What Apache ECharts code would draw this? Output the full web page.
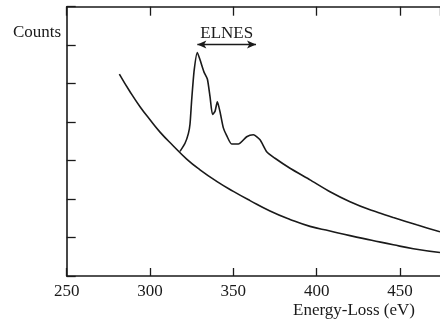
<!DOCTYPE html>
<html>
<head>
<meta charset="utf-8">
<script src="https://cdn.jsdelivr.net/npm/echarts@6/dist/echarts.min.js"></script>
<style>
html,body{margin:0;padding:0;background:#fff;}
#chart{width:440px;height:321px;}
</style>
</head>
<body>
<div id="chart"></div>
<script>
// Energy-loss axis ticks (the figure is cropped at ~474 eV on the right)
var xTicks = [250, 300, 350, 400, 450];
var xVisibleMax = 474;
// Background (pre-edge extrapolated) curve
var bgEnergy = [281.6, 288, 294, 300, 306, 314, 322, 330, 340, 350, 360, 372, 384, 396, 408, 420, 433, 446, 458, 474];
var bgCounts = [5.25, 4.79, 4.40, 4.06, 3.74, 3.38, 3.04, 2.76, 2.46, 2.20, 1.96, 1.69, 1.47, 1.29, 1.17, 1.05, 0.93, 0.81, 0.71, 0.61];
// Measured spectrum with edge + ELNES
var edgeEnergy = [318, 321, 323, 324, 325, 326.5, 328.4, 330, 332.4, 334.4, 336, 337.5, 339, 340.4, 342, 344, 346, 349, 353, 358, 362, 366, 370, 375, 384, 396, 408, 420, 432, 446, 460, 474];
var edgeCounts = [3.24, 3.45, 3.70, 3.95, 4.58, 5.35, 5.81, 5.62, 5.30, 5.12, 4.66, 4.20, 4.28, 4.53, 4.27, 3.85, 3.65, 3.43, 3.43, 3.62, 3.67, 3.54, 3.23, 3.06, 2.80, 2.50, 2.19, 1.93, 1.72, 1.52, 1.33, 1.15];
// ELNES annotation (energy range and level in data units)
var elnesRange = [328.4, 363.6];
var elnesLevel = 6.02;

function pairs(xs, ys){ return xs.map(function(x,i){ return [x, ys[i]]; }); }

var font = 'Liberation Serif, Times New Roman, serif';
var ink = '#1a1a1a';
var chart = echarts.init(document.getElementById('chart'), null, {renderer:'canvas'});
function xAxisCfg(pos, showLabel, tickLen){
  return {
    type: 'value', min: xTicks[0], max: xVisibleMax, interval: 50,
    position: pos,
    axisLine: {show: true, onZero: false, lineStyle: {color: ink, width: 1.6}},
    axisTick: {show: true, inside: true, length: tickLen, lineStyle: {color: ink, width: 1.3}},
    axisLabel: {show: showLabel, color: ink, fontFamily: font, fontSize: 17, margin: 7,
      showMaxLabel: false,
      formatter: function(v){ return xTicks.indexOf(v) >= 0 ? String(v) : ''; }},
    splitLine: {show: false}
  };
}
chart.setOption({
  animation: false,
  backgroundColor: '#ffffff',
  grid: {left: 66.7, top: 6.7, right: 0, bottom: 45, containLabel: false},
  xAxis: [xAxisCfg('bottom', true, 8), xAxisCfg('top', false, 9)],
  yAxis: {
    type: 'value', min: 0, max: 7, interval: 1,
    axisLine: {show: true, onZero: false, lineStyle: {color: ink, width: 1.6}},
    axisTick: {show: true, inside: true, length: 9, lineStyle: {color: ink, width: 1.3}},
    axisLabel: {show: false},
    splitLine: {show: false}
  },
  graphic: [
    {type: 'text', left: 13, top: 24, style: {text: 'Counts', font: '17px ' + font, fill: ink}},
    {type: 'text', left: 293, top: 302, style: {text: 'Energy-Loss (eV)', font: '17px ' + font, fill: ink}}
  ],
  series: [{
    type: 'line', name: 'background', data: pairs(bgEnergy, bgCounts),
    showSymbol: false, smooth: 0.5, silent: true,
    lineStyle: {color: ink, width: 1.6}
  }, {
    type: 'line', name: 'spectrum', data: pairs(edgeEnergy, edgeCounts),
    showSymbol: false, smooth: 0.2, silent: true,
    lineStyle: {color: ink, width: 1.6},
    markLine: {
      silent: true, symbol: ['arrow', 'arrow'], symbolSize: [6, 9],
      lineStyle: {color: ink, width: 1.3, type: 'solid'},
      label: {show: true, position: 'middle', formatter: 'ELNES', color: ink,
        fontFamily: font, fontSize: 17, distance: 2},
      data: [[{coord: [elnesRange[0], elnesLevel]}, {coord: [elnesRange[1], elnesLevel]}]]
    }
  }]
});
</script>
</body>
</html>
